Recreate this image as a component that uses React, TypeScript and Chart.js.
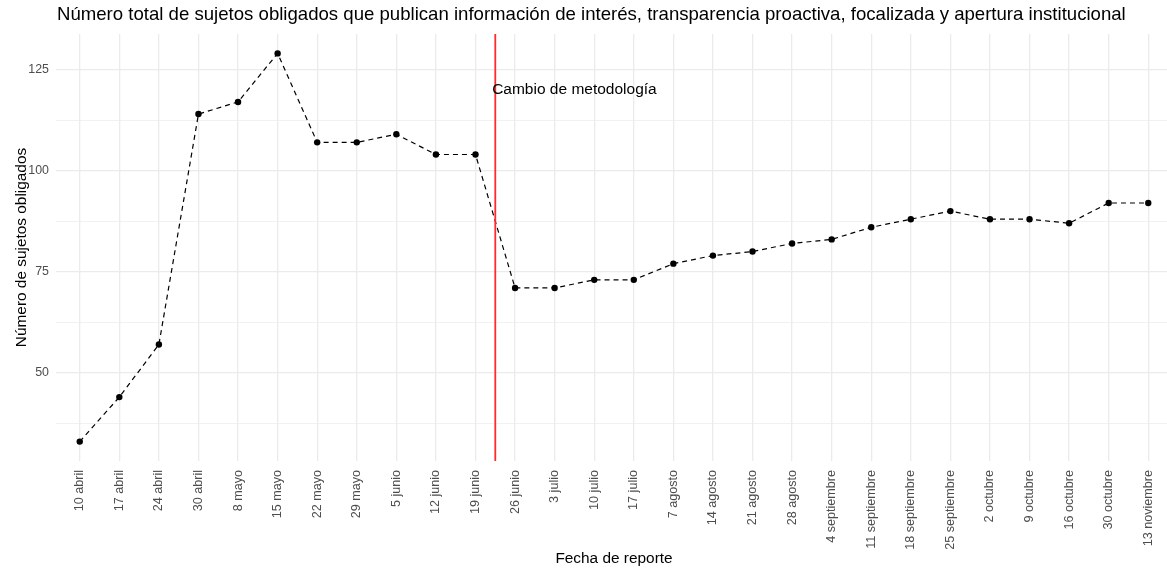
import React, { useEffect, useRef } from "react";
import { Chart, registerables } from "chart.js";

Chart.register(...registerables);

const chartTitle =
  "Número total de sujetos obligados que publican información de interés, transparencia proactiva, focalizada y apertura institucional";
const xAxisTitle = "Fecha de reporte";
const yAxisTitle = "Número de sujetos obligados";

const categories = [
  "10 abril", "17 abril", "24 abril", "30 abril", "8 mayo", "15 mayo", "22 mayo",
  "29 mayo", "5 junio", "12 junio", "19 junio", "26 junio", "3 julio", "10 julio",
  "17 julio", "7 agosto", "14 agosto", "21 agosto", "28 agosto", "4 septiembre",
  "11 septiembre", "18 septiembre", "25 septiembre", "2 octubre", "9 octubre",
  "16 octubre", "30 octubre", "13 noviembre",
];

const subjects = [
  33, 44, 57, 114, 117, 129, 107, 107, 109, 104, 104, 71, 71, 73, 73, 77, 79, 80,
  82, 83, 86, 88, 90, 88, 88, 87, 92, 92,
];

const yGridTicks = [37.5, 50, 62.5, 75, 87.5, 100, 112.5, 125];
const yLabelTicks = [50, 75, 100, 125];
const yMin = 28.2;
const yMax = 133.8;

const methodologyChangeAt = 10.5;
const annotationText = "Cambio de metodología";
const annotationX = 12.5;
const annotationY = 120;

const FONT = "'Liberation Sans', Arial, Helvetica, sans-serif";

export default function App() {
  const canvasRef = useRef<HTMLCanvasElement | null>(null);

  useEffect(() => {
    const canvas = canvasRef.current;
    if (!canvas) return;

    const overlay = {
      id: "overlay",
      afterDraw(chart: any) {
        const ctx = chart.ctx;
        ctx.save();
        ctx.fillStyle = "#000";
        ctx.textBaseline = "middle";
        ctx.textAlign = "left";
        ctx.font = `18.6px ${FONT}`;
        ctx.fillText(chartTitle, 57, 15);

        const xs = chart.scales.x;
        const ys = chart.scales.y;
        ctx.textAlign = "center";
        ctx.font = `15.5px ${FONT}`;
        ctx.fillText(
          annotationText,
          xs.getPixelForValue(annotationX),
          ys.getPixelForValue(annotationY)
        );
        ctx.restore();
      },
    };

    const chart = new Chart(canvas, {
      type: "line",
      data: {
        datasets: [
          {
            data: subjects.map((y, i) => ({ x: i, y })),
            borderColor: "#000",
            borderWidth: 1.2,
            borderDash: [5, 4],
            pointRadius: 3.2,
            pointBackgroundColor: "#000",
            pointBorderWidth: 0,
            tension: 0,
            order: 1,
          },
          {
            data: [
              { x: methodologyChangeAt, y: yMin },
              { x: methodologyChangeAt, y: yMax },
            ],
            borderColor: "#ff2a2a",
            borderWidth: 1.8,
            pointRadius: 0,
            order: 0,
          },
        ],
      },
      options: {
        animation: false,
        responsive: false,
        devicePixelRatio: 1,
        layout: { padding: { top: 34, left: 0, right: 0, bottom: 0 } },
        plugins: {
          legend: { display: false },
          tooltip: { enabled: false },
          title: { display: false },
        },
        scales: {
          x: {
            type: "linear",
            min: -0.6,
            max: 27.6,
            afterBuildTicks: (s: any) => {
              s.ticks = categories.map((_, i) => ({ value: i }));
            },
            afterFit: (s: any) => {
              s.height = 108;
              s.paddingLeft = 0;
              s.paddingRight = 0;
            },
            ticks: {
              autoSkip: false,
              maxRotation: 90,
              minRotation: 90,
              padding: 9,
              color: "#4d4d4d",
              font: { family: FONT, size: 12.6 },
              callback: (v: any) => categories[Math.round(Number(v))] ?? "",
            },
            grid: { color: "#ebebeb", lineWidth: 1.3, drawTicks: false },
            border: { display: false },
            title: {
              display: true,
              text: xAxisTitle,
              color: "#000",
              font: { family: FONT, size: 15.4 },
              padding: { top: 0, bottom: 1 },
            },
          },
          y: {
            type: "linear",
            min: yMin,
            max: yMax,
            afterBuildTicks: (s: any) => {
              s.ticks = yGridTicks.map((v) => ({ value: v }));
            },
            afterFit: (s: any) => {
              s.width = 56;
              s.paddingTop = 0;
              s.paddingBottom = 0;
            },
            ticks: {
              padding: 7,
              color: "#4d4d4d",
              font: { family: FONT, size: 12.4 },
              callback: (v: any) =>
                yLabelTicks.includes(Number(v)) ? String(v) : "",
            },
            grid: {
              color: "#ebebeb",
              drawTicks: false,
              lineWidth: (c: any) =>
                yLabelTicks.includes(c.tick?.value) ? 1.3 : 0.7,
            },
            border: { display: false },
            title: {
              display: true,
              text: yAxisTitle,
              color: "#000",
              font: { family: FONT, size: 15.4 },
              padding: { top: 12.2, bottom: 0 },
            },
          },
        },
      },
      plugins: [overlay],
    } as any);

    return () => chart.destroy();
  }, []);

  return (
    <div
      style={{
        position: "fixed",
        left: 0,
        top: 0,
        width: 1167,
        height: 569,
        overflow: "hidden",
        background: "#fff",
      }}
    >
      <canvas
        ref={canvasRef}
        width={1176}
        height={569}
        style={{ display: "block", width: 1176, height: 569 }}
      />
    </div>
  );
}
